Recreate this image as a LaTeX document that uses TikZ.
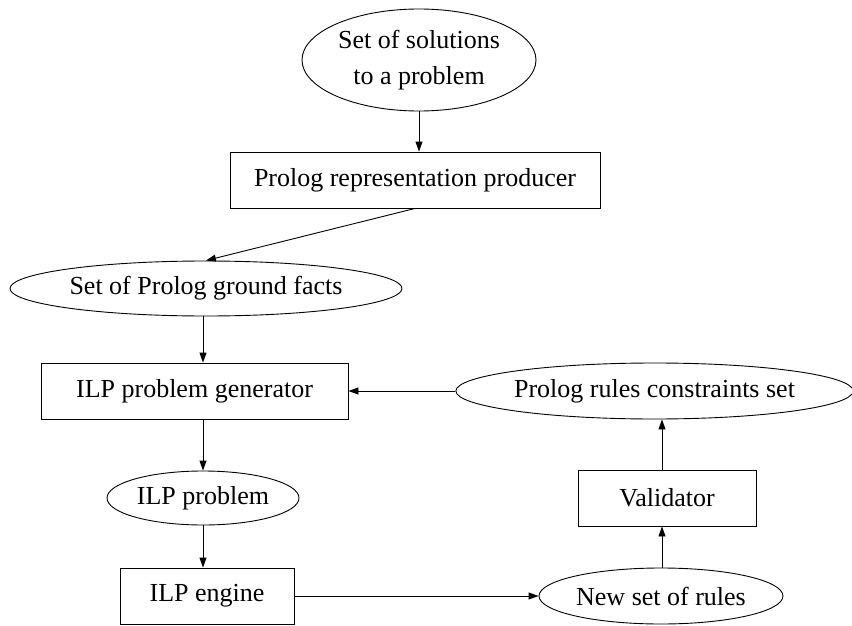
\documentclass[tikz,border=0pt]{standalone}
\usepackage{fontspec}
\setmainfont{Liberation Serif}
\usetikzlibrary{shapes.geometric,arrows.meta,calc}
\tikzset{
  oval/.style={draw, ellipse, inner sep=0pt, line width=0.9pt},
  box/.style={draw, rectangle, inner sep=0pt, line width=0.9pt},
  conn/.style={line width=0.9pt, -{Triangle[length=10pt,width=7pt]}},
  every node/.style={font=\fontsize{26}{36}\selectfont, align=center}
}
\begin{document}
\begin{tikzpicture}[x=1pt,y=-1pt]
\useasboundingbox (0,0) rectangle (852,626);
\node[oval, minimum width=234pt, minimum height=102pt] (e1) at (419,60) {Set of solutions\\to a problem};
\node[box, minimum width=370pt, minimum height=56pt] (r2) at (415,180) {Prolog representation producer};
\node[oval, minimum width=392pt, minimum height=55pt] (e3) at (206,288.5) {Set of Prolog ground facts};
\node[box, minimum width=307pt, minimum height=56pt] (r4) at (194.5,391) {ILP problem generator};
\node[oval, minimum width=393pt, minimum height=56pt] (e5) at (654.5,391) {Prolog rules constraints set};
\node[oval, minimum width=192pt, minimum height=54pt] (e6) at (203,498) {ILP problem};
\node[box, minimum width=178pt, minimum height=56pt] (val) at (667,498) {Validator};
\node[box, minimum width=174pt, minimum height=56pt] (r8) at (207,596) {ILP engine};
\node[oval, minimum width=244pt, minimum height=56pt] (e9) at (661,596) {New set of rules};
\coordinate (xa) at (203,0);
\coordinate (xb) at (662,0);
\draw[conn] (e1.south) -- (e1.south |- r2.north);
\draw[conn] (r2.south) -- (e3.north);
\draw[conn] (e3.south -| xa) -- (r4.north -| xa);
\draw[conn] (e5.west) -- (r4.east);
\draw[conn] (r4.south -| xa) -- (e6.north);
\draw[conn] (e6.south) -- (e6.south |- r8.north);
\draw[conn] (r8.east) -- (e9.west);
\draw[conn] (e9.north -| xb) -- (val.south -| xb);
\draw[conn] (val.north -| xb) -- (e5.south -| xb);
\end{tikzpicture}
\end{document}
